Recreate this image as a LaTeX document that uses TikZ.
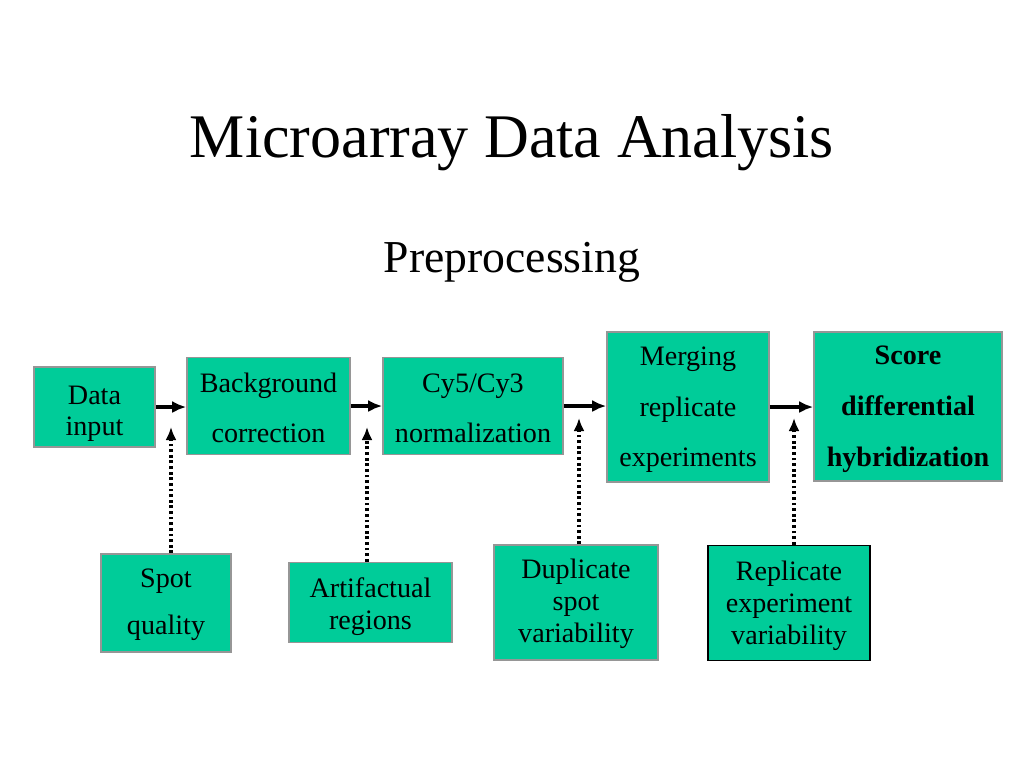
\documentclass[tikz,border=0pt]{standalone}
\usepackage{fontspec}
\setmainfont{Liberation Serif}
\usepackage{xcolor}
\usepackage{tikz}
\usetikzlibrary{arrows.meta, positioning, calc}
\definecolor{stepfill}{RGB}{0, 204, 153}
\definecolor{stepedge}{RGB}{150, 150, 150}
\tikzset{
  stepbox/.style={
    rectangle, draw=stepedge, fill=stepfill, line width=0.9pt,
    inner sep=0pt, align=center, text=black,
    font=\fontsize{16}{18.2}\selectfont
  },
  loosetext/.style={font=\fontsize{16}{28.8}\selectfont},
  flowline/.style={
    draw=black, -{Latex[length=2.8mm, width=2.4mm]}, line width=1.8pt
  },
  dotline/.style={
    draw=black, -{Latex[length=2.6mm, width=2.2mm]}, line width=1.9pt,
    dash pattern=on 1.6pt off 1.6pt
  }
}
\begin{document}
\begin{tikzpicture}[x=0.02cm, y=-0.02cm]
  \useasboundingbox (0,0) rectangle (1024,768);

  % titles
  \node[anchor=base, font=\fontsize{35.3}{40}\selectfont] (title) at (512,157) {Microarray Data Analysis};
  \node[anchor=base, font=\fontsize{26}{30}\selectfont] (subtitle) at (512,272) {Preprocessing};

  % main pipeline
  \node[stepbox, text depth=0pt, text height=32pt, font=\fontsize{16}{17.6}\selectfont, minimum width=121*0.02cm, minimum height=80*0.02cm] (input) at (94.5,407) {Data\\input};
  \node[stepbox, loosetext, text depth=0pt, text height=42pt, minimum width=163*0.02cm, minimum height=97*0.02cm] (background) at (268.5,406) {Background\\correction};
  \node[stepbox, loosetext, text depth=0pt, text height=42pt, minimum width=180*0.02cm, minimum height=97*0.02cm] (normalize) at (473,406) {Cy5/Cy3\\normalization};
  \node[stepbox, loosetext, text depth=0pt, minimum width=162*0.02cm, minimum height=150*0.02cm] (merging) at (688,407) {Merging\\replicate\\experiments};
  \node[stepbox, loosetext, text depth=0.3pt, minimum width=188*0.02cm, minimum height=149*0.02cm] (score) at (908,406.5) {\textbf{Score}\\\textbf{differential}\\\textbf{hybridization}};

  % sources of variability
  \node[stepbox, text depth=1.7pt, font=\fontsize{16}{27}\selectfont, minimum width=130*0.02cm, minimum height=98*0.02cm] (spot) at (166,603) {Spot\\quality};
  \node[stepbox, text depth=0pt, text height=31pt, font=\fontsize{16}{18.6}\selectfont, minimum width=163*0.02cm, minimum height=80*0.02cm] (artifact) at (370.5,602.5) {Artifactual\\regions};
  \node[stepbox, text depth=1.9pt, minimum width=164*0.02cm, minimum height=115*0.02cm] (duplicate) at (576,602.5) {Duplicate\\spot\\variability};
  \node[stepbox, text depth=0.7pt, draw=black, minimum width=162*0.02cm, minimum height=115*0.02cm] (replicate) at (789,603) {Replicate\\experiment\\variability};

  % tips of the dotted arrows
  \coordinate (tipA) at (171,427);
  \coordinate (tipB) at (367,427);
  \coordinate (tipC) at (579,418);
  \coordinate (tipD) at (794,418);

  \draw[flowline] (input.east) -- (input.east -| background.west);
  \draw[flowline] (background.east) -- (background.east -| normalize.west);
  \draw[flowline] (normalize.east) -- (normalize.east -| merging.west);
  \draw[flowline] (merging.east) -- (merging.east -| score.west);

  \draw[dotline] (spot.north -| tipA) -- (tipA);
  \draw[dotline] (artifact.north -| tipB) -- (tipB);
  \draw[dotline] (duplicate.north -| tipC) -- (tipC);
  \draw[dotline] (replicate.north -| tipD) -- (tipD);
\end{tikzpicture}
\end{document}
